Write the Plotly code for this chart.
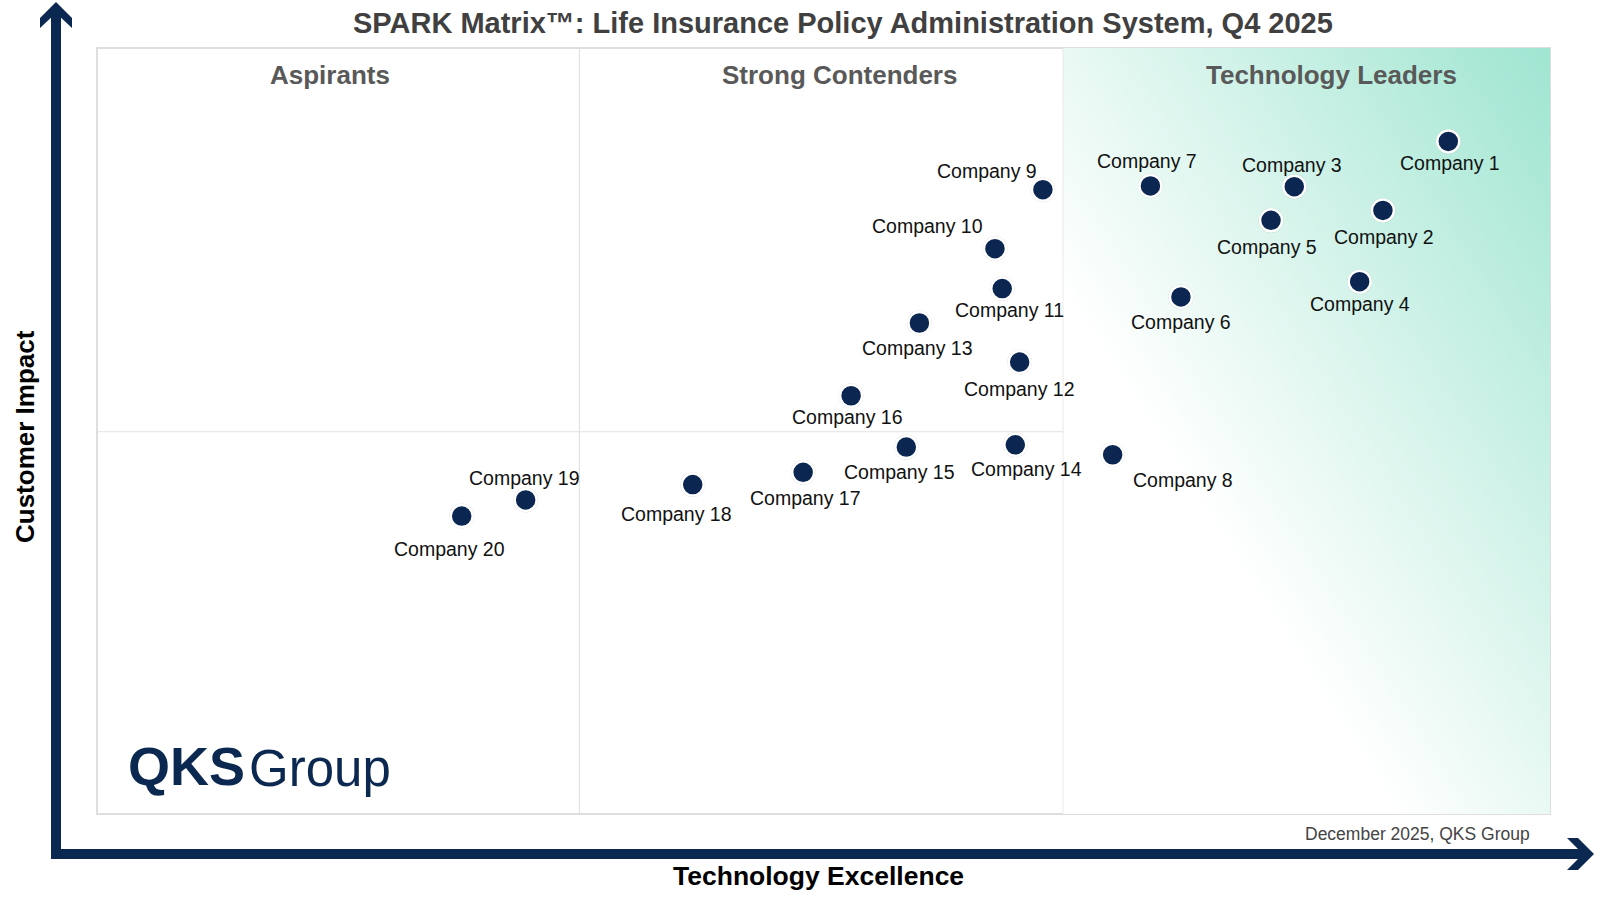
import base64
import plotly.graph_objects as go

# vendor scores (0-100 on both axes)
companies = [f"Company {i}" for i in range(1, 21)]
tech_excellence = [93.0, 88.5, 82.4, 86.9, 80.8, 74.6, 72.5, 69.9, 65.1, 61.8,
                   62.3, 63.5, 56.6, 63.2, 55.7, 51.9, 48.6, 41.0, 29.5, 25.1]
customer_impact = [87.8, 78.8, 81.9, 69.5, 77.5, 67.5, 82.0, 46.9, 81.5, 73.8,
                   68.6, 59.0, 64.1, 48.2, 47.9, 54.6, 44.6, 43.0, 41.0, 38.9]

quadrants = ["Aspirants", "Strong Contenders", "Technology Leaders"]
x_splits = [33.2, 66.5]
y_split = 49.9

# label offsets in pixels (dx, dy) relative to each marker
label_offsets = [(2, -22), (1, -27), (-2, 22), (0, -22), (-4, -27), (0, -25),
                 (-3, 25), (70, -25), (-56, 19), (-67, 23), (7, -21), (0, -27),
                 (-2, -25), (11, -24), (-7, -25), (-4, -21), (2, -26), (-16, -29),
                 (-1, 22), (-12, -33)]
# heading centres in page pixels
quadrant_px = [330, 839, 1331]

W, H = 1600, 900
L, R, T, B = 97, 1550, 48, 814
NAVY = "#0b2850"
FONT = "Liberation Sans, Arial, sans-serif"


def px(x):
    return (x - L) / (R - L)


def py(y):
    return (B - y) / (B - T)


fig = go.Figure()

# soft halo under the markers
fig.add_trace(go.Scatter(
    x=tech_excellence, y=customer_impact, mode="markers",
    marker=dict(size=25, color="rgba(0,0,0,0.12)"),
    hoverinfo="skip", showlegend=False))
fig.add_trace(go.Scatter(
    x=tech_excellence, y=customer_impact, mode="markers",
    marker=dict(size=22, color="#0c2652", line=dict(color="white", width=2.5)),
    text=companies, hoverinfo="text", showlegend=False))

annotations = []
for name, x, y, (dx, dy) in zip(companies, tech_excellence, customer_impact, label_offsets):
    annotations.append(dict(x=x, y=y, xref="x", yref="y", text=name, showarrow=False,
                            xshift=dx, yshift=dy, xanchor="center", yanchor="middle",
                            font=dict(family=FONT, size=19.5, color="#111111")))


def note(x, y, text, size, color, xanchor="center", angle=0):
    return dict(x=px(x), y=py(y), xref="paper", yref="paper", showarrow=False,
                xanchor=xanchor, yanchor="middle", textangle=angle, text=text,
                font=dict(family=FONT, size=size, color=color))


# quadrant headings
for q, cx in zip(quadrants, quadrant_px):
    annotations.append(note(cx, 75, f"<b>{q}</b>", 26, "#595959"))

annotations += [
    note(843, 23, "<b>SPARK Matrix™: Life Insurance Policy Administration System, Q4 2025</b>",
         29, "#404040"),
    note(818, 876, "<b>Technology Excellence</b>", 26.5, "black"),
    note(25, 437, "<b>Customer Impact</b>", 26, "black", angle=-90),
    note(1532, 834, "December 2025, QKS Group", 17.5, "#444444", xanchor="right"),
    note(126, 766, "<b>QKS</b>", 54, NAVY, xanchor="left"),
    note(247, 768, "Group", 51, NAVY, xanchor="left"),
]

shapes = [
    # plot frame and quadrant dividers
    dict(type="rect", xref="paper", yref="paper", x0=0, y0=0, x1=1, y1=1,
         line=dict(color="#dedede", width=2), layer="below"),
    dict(type="line", xref="x", yref="paper", x0=x_splits[0], x1=x_splits[0], y0=0, y1=1,
         line=dict(color="#e2e2e2", width=1.2), layer="below"),
    dict(type="line", xref="x", yref="paper", x0=x_splits[1], x1=x_splits[1], y0=0, y1=1,
         line=dict(color="#e2e2e2", width=1.2), layer="below"),
    dict(type="line", xref="paper", yref="y", x0=0, x1=1, y0=y_split, y1=y_split,
         line=dict(color="#e2e2e2", width=1.2), layer="below"),
    # axis arrows
    dict(type="path", xref="paper", yref="paper",
         path=f"M {px(56)},{py(12)} L {px(56)},{py(854)} L {px(1584)},{py(854)}",
         line=dict(color=NAVY, width=10)),
    dict(type="path", xref="paper", yref="paper", fillcolor=NAVY, line=dict(width=0),
         path=(f"M {px(56)},{py(2)} L {px(72)},{py(18)} L {px(72)},{py(28)} L {px(56)},{py(13)} "
               f"L {px(40)},{py(28)} L {px(40)},{py(18)} Z")),
    dict(type="path", xref="paper", yref="paper", fillcolor=NAVY, line=dict(width=0),
         path=(f"M {px(1594)},{py(854)} L {px(1578)},{py(870)} L {px(1567)},{py(870)} "
               f"L {px(1583)},{py(854)} L {px(1567)},{py(838)} L {px(1578)},{py(838)} Z")),
]

# mint gradient behind the leaders quadrant
svg = ('<svg xmlns="http://www.w3.org/2000/svg" width="100" height="100" preserveAspectRatio="none">'
       '<defs><linearGradient id="g" x1="0" y1="1" x2="1" y2="0">'
       '<stop offset="0" stop-color="#ffffff"/><stop offset="0.34" stop-color="#ffffff"/>'
       '<stop offset="0.5" stop-color="#e9f9f4"/><stop offset="1" stop-color="#9fe5d1"/>'
       '</linearGradient></defs><rect width="100" height="100" fill="url(#g)"/></svg>')
gradient_src = "data:image/svg+xml;base64," + base64.b64encode(svg.encode()).decode()

fig.update_layout(
    width=W, height=H,
    margin=dict(l=L, r=W - R, t=T, b=H - B),
    paper_bgcolor="white", plot_bgcolor="white",
    xaxis=dict(range=[0, 100], visible=False, fixedrange=True),
    yaxis=dict(range=[0, 100], visible=False, fixedrange=True),
    annotations=annotations, shapes=shapes,
    images=[dict(source=gradient_src, xref="x", yref="y", x=x_splits[1], y=100,
                 sizex=100 - x_splits[1], sizey=100, sizing="stretch", layer="below")],
    showlegend=False,
)

fig.write_html("out.html", config={"displayModeBar": False},
               post_script="document.body.style.margin='0';")
